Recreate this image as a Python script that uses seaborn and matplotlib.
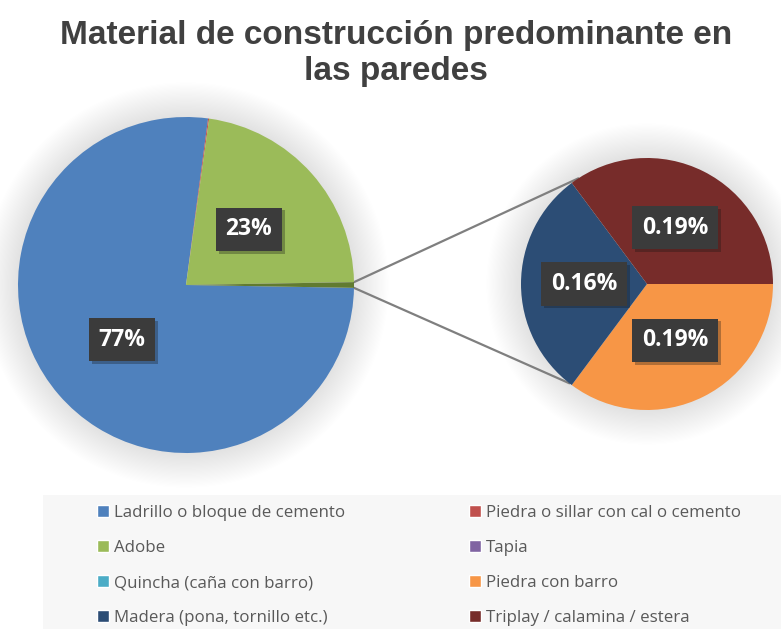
import matplotlib
matplotlib.use("Agg")
import matplotlib.pyplot as plt
import matplotlib.patheffects as pe
from matplotlib.patches import Patch, Rectangle, Circle
from matplotlib.lines import Line2D
import numpy as np
import seaborn as sns

# -----------------------------
# Data (percent of total)
# -----------------------------
main_labels = [
    "Ladrillo o bloque de cemento",
    "Piedra o sillar con cal o cemento",
    "Adobe",
    "Tapia",
    "Quincha (caña con barro)",
]
main_values = [76.83, 0.1, 22.52, 0.01, 0.0]

sub_labels = [
    "Piedra con barro",
    "Madera (pona, tornillo etc.)",
    "Triplay / calamina / estera",
]
sub_values = [0.19, 0.16, 0.19]

palette = sns.color_palette([
    "#4f81bd", "#c0504d", "#9bbb59", "#8064a2", "#4bacc6",
    "#f79646", "#2c4d75", "#772c2a",
])
other_color = "#617b30"

sns.set_theme(style="white")
plt.rcParams["font.family"] = ["Liberation Sans", "DejaVu Sans"]

fig = plt.figure(figsize=(7.81, 6.29), dpi=100)
ax = fig.add_axes([0, 0, 1, 1])

main_center, main_r = (186, 344), 168
sub_center, sub_r = (647, 345), 126

# soft glow behind both pies
for c, r in [(main_center, main_r), (sub_center, sub_r)]:
    for k in range(1, 30):
        ax.add_patch(Circle(c, r + k * 1.2, color="black", alpha=0.0035,
                            lw=0, zorder=0))

other_total = sum(sub_values)
main_all = main_values + [other_total]
main_colors = palette[:5] + [other_color]

label_box = dict(boxstyle="square,pad=0.42", fc="#3b3b3b", ec="none")


def style_labels(texts):
    for t in texts:
        if t.get_text():
            t.set_color("white")
            t.set_fontweight("bold")
            t.set_fontsize(16.5)
            t.set_family(["Open Sans", "DejaVu Sans"])
            t.set_bbox(label_box)
            t.get_bbox_patch().set_path_effects(
                [pe.SimplePatchShadow(offset=(2, -2), alpha=0.3), pe.Normal()])


start = -other_total / 100 * 180
wedges, _, autotexts = ax.pie(
    main_all, colors=main_colors, center=main_center, radius=main_r,
    startangle=start, counterclock=False, frame=True,
    autopct=lambda p: f"{p:.0f}%" if p > 5 else "", pctdistance=0.5,
    wedgeprops=dict(linewidth=0))
style_labels(autotexts)

wedges2, _, autotexts2 = ax.pie(
    sub_values, colors=palette[5:], center=sub_center, radius=sub_r,
    startangle=0, counterclock=False, frame=True,
    autopct=lambda p: f"{p * other_total / 100:.2f}%", pctdistance=0.5,
    wedgeprops=dict(linewidth=0))
style_labels(autotexts2)

# connector lines
a0 = np.deg2rad(other_total / 100 * 180)
for sgn, ang in [(1, 123), (-1, 232)]:
    p1 = (main_center[0] + main_r * np.cos(a0), main_center[1] + sgn * main_r * np.sin(a0))
    p2 = (sub_center[0] + sub_r * np.cos(np.deg2rad(ang)),
          sub_center[1] + sub_r * np.sin(np.deg2rad(ang)))
    ax.add_line(Line2D([p1[0], p2[0]], [p1[1], p2[1]], color="#7f7f7f", lw=1.6, zorder=0.5))

ax.set_xlim(0, 781)
ax.set_ylim(0, 629)
ax.set_aspect("equal")
ax.axis("off")

# title
fig.text(0.507, 0.968, "Material de construcción predominante en\nlas paredes",
         ha="center", va="top", fontsize=24, fontweight="bold",
         color="#404040", linespacing=1.22)

# legend
fig.patches.append(Rectangle((43 / 781, 0), 1, (629 - 495) / 629,
                             transform=fig.transFigure, fc="#f7f7f7", ec="none",
                             zorder=0))
all_labels = main_labels + sub_labels
all_colors = list(palette)
order = [0, 2, 4, 6, 1, 3, 5, 7]
handles = [Patch(facecolor=all_colors[i], label=all_labels[i]) for i in order]
leg = fig.legend(handles=handles, ncol=2, loc="upper left",
                 bbox_to_anchor=(82 / 781, (629 - 490) / 629),
                 frameon=False, handlelength=0.7,
                 handleheight=0.7, handletextpad=0.3, labelspacing=1.12,
                 columnspacing=7.3, labelcolor="#595959",
                 prop={"family": ["Open Sans", "DejaVu Sans"], "size": 12.2})

fig.savefig("out.png", dpi=100)
